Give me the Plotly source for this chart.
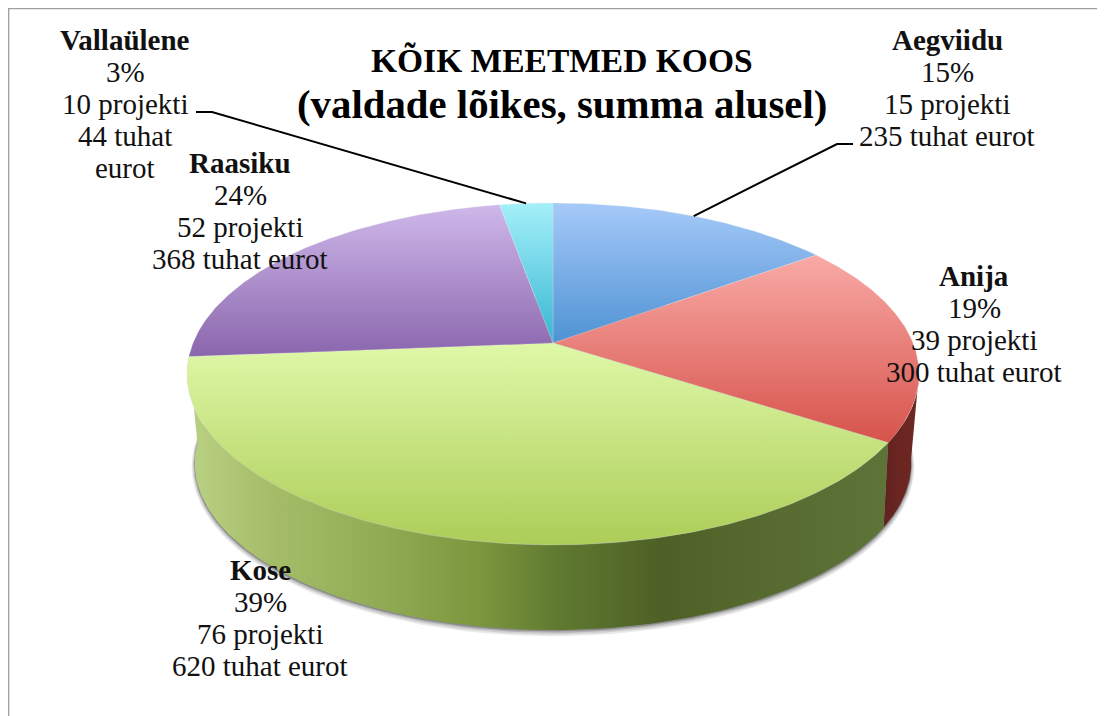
import numpy as np
import plotly.graph_objects as go

# ---- data ----
names = ["Aegviidu", "Anija", "Kose", "Raasiku", "Vallaülene"]
sums = [235, 300, 620, 368, 44]
percents = ["15%", "19%", "39%", "24%", "3%"]
projects = ["15 projekti", "39 projekti", "76 projekti", "52 projekti", "10 projekti"]
amounts = ["235 tuhat eurot", "300 tuhat eurot", "620 tuhat eurot", "368 tuhat eurot", "44 tuhat|eurot"]
title_lines = ["KÕIK MEETMED KOOS", "(valdade lõikes, summa alusel)"]

# ---- styles / layout ----
top_colors = [("#a6caf9", "#4e92d3"), ("#f9aaa6", "#d6534b"), ("#dff8a8", "#accd58"),
              ("#cfb8ea", "#8a66ad"), ("#a4f0f9", "#38b6d3")]
label_pos = [(947, 40), (974, 276), (260, 570), (240, 163), (125, 40)]
line_gap = 32
FONT = "Liberation Serif"
LABEL_SIZE = 29
TITLE_SIZES = [33.5, 40.8]

fracs = np.cumsum([0] + sums) / sum(sums) * 360.0


def top_rim(a):
    r = np.radians(a)
    w = 1 + 0.181 * np.cos(r)
    return 553 + 360 * np.sin(r) / w, 343 - 165.4 * np.cos(r) / w


def low_rim(a, grow=0.0):
    r = np.radians(a)
    w = 1 + 0.2 * np.cos(r)
    return 553 + (351 + grow) * np.sin(r) / w, 430 - (160 + grow) * np.cos(r) / w


fig = go.Figure()

# soft shadow beneath the disc
for grow, dy, op in [(3, 2.5, 0.10), (2, 2, 0.14), (1, 1.5, 0.2), (0.3, 1, 0.3)]:
    ang = np.linspace(0, 360, 300)
    lx, ly = low_rim(ang, grow)
    fig.add_trace(go.Scatter(x=lx, y=ly + dy, mode="lines", line=dict(width=0),
                             fill="toself", fillcolor=f"rgba(50,50,50,{op})",
                             hoverinfo="skip", showlegend=False))

# side wall: Anija then Kose
wall_scales = {
    1: (880, 925, [[0, "#5e2220"], [0.5, "#6c2622"], [1, "#6a2a24"]]),
    2: (188, 885, [[0, "#bad184"], [0.12, "#a5bd68"], [0.3, "#8ea852"], [0.42, "#7c963e"],
                   [0.53, "#5f7a30"], [0.68, "#4e6026"], [0.82, "#566a30"], [1, "#5e7338"]]),
}
for i, (x0, x1, scale) in wall_scales.items():
    a0 = max(fracs[i], 100)
    a1 = fracs[i + 1]
    ang = np.linspace(a0, a1, 160)
    tx, ty = top_rim(ang)
    bx, by = low_rim(ang[::-1])
    fig.add_trace(go.Scatter(x=np.r_[tx, bx, tx[0]], y=np.r_[ty, by, ty[0]], mode="lines", line=dict(width=0),
                             fill="toself",
                             fillgradient=dict(type="horizontal", colorscale=scale, start=x0, stop=x1),
                             hoverinfo="skip", showlegend=False))

# top face slices
for i, nm in enumerate(names):
    ang = np.linspace(fracs[i], fracs[i + 1], 200)
    rx, ry = top_rim(ang)
    px = np.r_[553, rx, 553]
    py = np.r_[343, ry, 343]
    c0, c1 = top_colors[i]
    fig.add_trace(go.Scatter(x=px, y=py, mode="lines", line=dict(width=0.5, color="rgba(235,235,235,0.5)"),
                             fill="toself",
                             fillgradient=dict(type="vertical", colorscale=[[0, c0], [1, c1]],
                                               start=float(py.min()), stop=float(py.max())),
                             name=nm, hoverinfo="skip", showlegend=False))

# leader lines, from slice mid angle on the rim
leaders = {0: [(853, 144), (837, 144)], 4: [(196, 112), (212, 112)]}
for i, pts in leaders.items():
    mx, my = top_rim((fracs[i] + fracs[i + 1]) / 2)
    fig.add_trace(go.Scatter(x=[p[0] for p in pts] + [float(mx)], y=[p[1] for p in pts] + [float(my)],
                             mode="lines", line=dict(color="#000000", width=2),
                             hoverinfo="skip", showlegend=False))

annots = []
for i, nm in enumerate(names):
    lines = [nm, percents[i], projects[i]] + amounts[i].split("|")
    cx, cy = label_pos[i]
    for j, t in enumerate(lines):
        annots.append(dict(x=cx, y=cy + j * line_gap, xref="x", yref="y", text=f"<b>{t}</b>" if j == 0 else t,
                           showarrow=False, xanchor="center", yanchor="middle",
                           font=dict(family=FONT, size=LABEL_SIZE, color="#111111")))
for j, t in enumerate(title_lines):
    annots.append(dict(x=562, y=60 + j * 44, xref="x", yref="y", text=f"<b>{t}</b>", showarrow=False,
                       xanchor="center", yanchor="middle",
                       font=dict(family=FONT, size=TITLE_SIZES[j], color="#000000")))

# the page keeps an 8 px margin, so the plot area starts at (8, 8)
fig.update_layout(
    width=1097, height=708, margin=dict(l=0, r=0, t=0, b=0, pad=0), autosize=False,
    paper_bgcolor="white", plot_bgcolor="white", showlegend=False, annotations=annots,
    xaxis=dict(range=[8, 1105], visible=False, fixedrange=True),
    yaxis=dict(range=[716, 8], visible=False, fixedrange=True),
    shapes=[dict(type="line", xref="x", yref="y", x0=8.6, x1=8.6, y0=8, y1=716, line=dict(color="#a0a0a0", width=1.5)),
            dict(type="line", xref="x", yref="y", x0=8, x1=1105, y0=8.6, y1=8.6, line=dict(color="#a0a0a0", width=1.5))],
)
fig.write_html("out.html", config=dict(displayModeBar=False))
